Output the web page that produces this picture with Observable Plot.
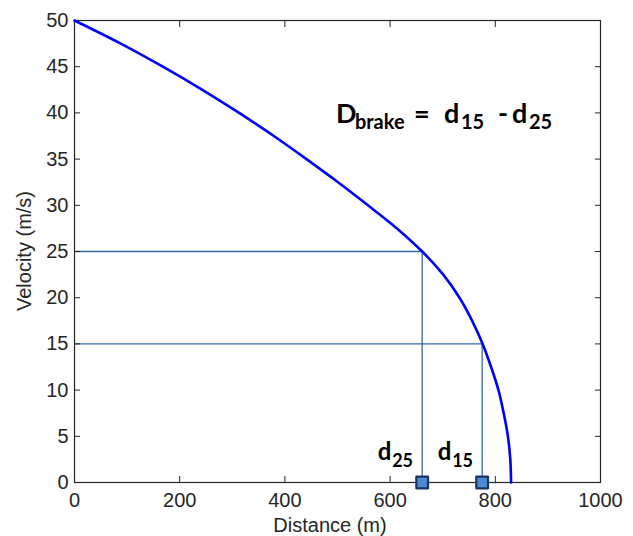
<!DOCTYPE html>
<html>
<head>
<meta charset="utf-8">
<script src="https://cdn.jsdelivr.net/npm/d3@7"></script>
<script src="https://cdn.jsdelivr.net/npm/@observablehq/plot@0.6"></script>
<style>
  html, body { margin: 0; padding: 0; background: #fff; }
  #chart svg { display: block; }
</style>
</head>
<body>
<div id="chart"></div>
<script>
// Curve readings: velocity (m/s) vs distance (m)
const velocity = [50, 47.5, 45, 42.5, 40, 37.5, 35, 32.5, 30, 27.5, 25, 22.5, 20, 17.5, 15, 12.5, 10, 7.5, 5, 2.5, 0];
const distance = [0, 88, 168, 243, 313, 379, 441, 501, 558, 613, 661, 701, 732, 756, 776, 792, 806, 816, 824, 828.5, 830];

// Braking markers
const markerNames = ["25", "15"];
const markerVelocity = [25, 15];
const markerDistance = [661, 775];

const xTicks = [0, 200, 400, 600, 800, 1000];
const yTicks = [0, 5, 10, 15, 20, 25, 30, 35, 40, 45, 50];

const curve = velocity.map((v, i) => ({v, d: distance[i]}));
const markers = markerNames.map((n, i) => ({name: n, v: markerVelocity[i], d: markerDistance[i]}));

const guideColor = "#3566aa";
const axisColor = "#262626";

const plot = Plot.plot({
  width: 633,
  height: 536,
  marginLeft: 74,
  marginRight: 33,
  marginTop: 20,
  marginBottom: 54,
  style: {fontFamily: "'Liberation Sans', Arial, sans-serif", fontSize: "20px", color: axisColor, background: "#fff"},
  x: {domain: [0, 1000], ticks: xTicks},
  y: {domain: [0, 50], ticks: yTicks},
  marks: [
    // guide lines
    Plot.ruleY(markers, {y: "v", x1: 0, x2: "d", stroke: guideColor, strokeWidth: 1.3}),
    Plot.ruleX(markers, {x: "d", y1: 0, y2: "v", stroke: guideColor, strokeWidth: 1.3}),
    // axes: labels
    Plot.axisX({ticks: xTicks, tickSize: 0, tickPadding: 10, label: null, fontSize: 20, tickFormat: d => String(d)}),
    Plot.axisY({ticks: yTicks, tickSize: 0, tickPadding: 6, label: null, fontSize: 20, tickFormat: d => String(d)}),
    // inward ticks all around
    Plot.axisX({ticks: xTicks, anchor: "bottom", tickSize: -6, text: null, label: null, stroke: axisColor}),
    Plot.axisX({ticks: xTicks, anchor: "top", tickSize: -6, text: null, label: null, stroke: axisColor}),
    Plot.axisY({ticks: yTicks, anchor: "left", tickSize: -6, text: null, label: null, stroke: axisColor}),
    Plot.axisY({ticks: yTicks, anchor: "right", tickSize: -6, text: null, label: null, stroke: axisColor}),
    Plot.frame({stroke: axisColor, strokeWidth: 1.2}),
    // curve
    Plot.line(curve, {x: "d", y: "v", stroke: "#0000ff", strokeWidth: 2.6, curve: "monotone-y"}),
    // markers
    Plot.dot(markers, {x: "d", y: 0, symbol: "square", r: 6.6, fill: "#4d8ad3", stroke: "#1a3560", strokeWidth: 2.2, strokeLinejoin: "round"})
  ]
});

document.getElementById("chart").appendChild(plot);

// Annotations and axis titles
const svg = d3.select(plot);
const sx = plot.scale("x"), sy = plot.scale("y");
const x = (d) => sx.apply(d), y = (v) => sy.apply(v);
const bold = "Lato, 'Open Sans', sans-serif";

svg.append("text")
  .attr("x", (x(0) + x(1000)) / 2 - 7)
  .attr("y", 532)
  .attr("text-anchor", "middle")
  .attr("font-family", "'Liberation Sans', Arial, sans-serif")
  .attr("font-size", 20)
  .attr("fill", axisColor)
  .text("Distance (m)");

svg.append("text")
  .attr("transform", `translate(31,${(y(0) + y(50)) / 2}) rotate(-90)`)
  .attr("text-anchor", "middle")
  .attr("font-family", "'Liberation Sans', Arial, sans-serif")
  .attr("font-size", 20)
  .attr("fill", axisColor)
  .text("Velocity (m/s)");

// Formula  D_brake = d_15 - d_25
const fx = x(498), fy = y(38.8);
const f = svg.append("text")
  .attr("text-anchor", "start")
  .attr("font-family", bold)
  .attr("font-weight", "bold")
  .attr("fill", "#000");
const part = (t, dx, dy, size) => f.append("tspan").attr("x", fx + dx).attr("y", fy + dy).attr("font-size", size).text(t);
part("D", 0, 0, 27);
part("brake", 19, 6, 20);
part("=", 78, 0, 27);
part("d", 108, 0, 27);
part(markerNames[1], 125, 6, 20);
part("-", 162, 0, 27);
part("d", 176, 0, 27);
part(markerNames[0], 193, 6, 20);

// Labels above markers
markers.forEach(m => {
  const g = svg.append("text")
    .attr("text-anchor", "start")
    .attr("font-family", bold)
    .attr("font-weight", "bold")
    .attr("fill", "#000");
  const bx = x(m.d) - 44, by = y(0) - 22;
  g.append("tspan").attr("x", bx).attr("y", by).attr("font-size", 24).text("d");
  g.append("tspan").attr("x", bx + 14.5).attr("y", by + 7).attr("font-size", 18).text(m.name);
});
</script>
</body>
</html>
